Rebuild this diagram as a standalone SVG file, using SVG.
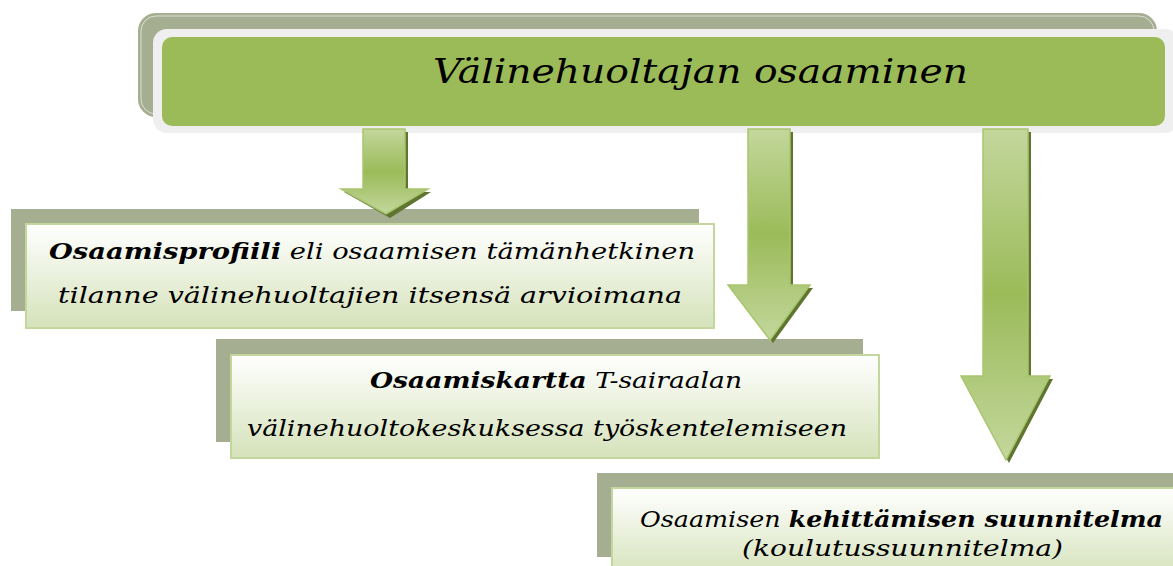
<svg xmlns="http://www.w3.org/2000/svg" width="1173" height="566" viewBox="0 0 1173 566">
  <defs>
    <linearGradient id="boxFill" x1="0" y1="0" x2="0" y2="1">
      <stop offset="0" stop-color="#ffffff"/>
      <stop offset="1" stop-color="#d5e2ba"/>
    </linearGradient>
    <linearGradient id="arrowFill" x1="0" y1="0" x2="0" y2="1">
      <stop offset="0" stop-color="#c3d79c"/>
      <stop offset="0.5" stop-color="#9bbb59"/>
      <stop offset="1" stop-color="#c3d79c"/>
    </linearGradient>
    <style>
      .back { fill: #a6ae92; }
      .card { fill: url(#boxFill); stroke: #c3d69b; stroke-width: 2; }
      .txt { font-family: "DejaVu Serif", "Liberation Serif", serif; font-style: italic; fill: #000; }
      .box-txt { font-size: 22px; }
      .b { font-weight: bold; }
      .arrow { fill: url(#arrowFill); stroke: #a9c56e; stroke-width: 1.5; }
      .arrow-shadow { fill: #5f7530; }
    </style>
  </defs>

  <!-- title block -->
  <g id="title">
    <rect x="138" y="13" width="1019" height="104" rx="18" fill="#a6ae92"/>
    <rect x="141" y="16" width="1013" height="98" rx="15" fill="none" stroke="#ffffff" stroke-opacity="0.6" stroke-width="1"/>
    <rect x="153" y="29" width="1026" height="104" rx="14" fill="#efefef"/>
    <rect x="162" y="37" width="1003" height="89" rx="10" fill="#9bbb59"/>
    <text class="txt" x="433" y="83" font-size="34" textLength="535" lengthAdjust="spacingAndGlyphs">Välinehuoltajan osaaminen</text>
  </g>

  <!-- competence profile -->
  <g id="profile">
    <rect class="back" x="11" y="209" width="688" height="102"/>
    <rect class="card" x="26" y="224" width="688" height="104"/>
    <text class="txt box-txt" x="49" y="259" textLength="646" lengthAdjust="spacingAndGlyphs"><tspan class="b">Osaamisprofiili</tspan> eli  osaamisen tämänhetkinen</text>
    <text class="txt box-txt" x="58" y="303" textLength="624" lengthAdjust="spacingAndGlyphs">tilanne välinehuoltajien itsensä arvioimana</text>
  </g>

  <!-- competence map -->
  <g id="map">
    <rect class="back" x="216" y="339" width="647" height="103"/>
    <rect class="card" x="231" y="355" width="648" height="103"/>
    <text class="txt box-txt" x="370" y="388" textLength="372" lengthAdjust="spacingAndGlyphs"><tspan class="b">Osaamiskartta</tspan> T-sairaalan</text>
    <text class="txt box-txt" x="247" y="436" textLength="600" lengthAdjust="spacingAndGlyphs">välinehuoltokeskuksessa työskentelemiseen</text>
  </g>

  <!-- development plan -->
  <g id="plan">
    <rect class="back" x="597" y="473" width="590" height="84"/>
    <rect class="card" x="612" y="488" width="580" height="90"/>
    <text class="txt box-txt" x="640" y="527" textLength="523" lengthAdjust="spacingAndGlyphs">Osaamisen <tspan class="b">kehittämisen suunnitelma</tspan></text>
    <text class="txt box-txt" x="742" y="556" textLength="321" lengthAdjust="spacingAndGlyphs">(koulutussuunnitelma)</text>
  </g>

  <!-- block arrows -->
  <g id="connectors">
    <g id="arrow-profile">
      <polygon class="arrow-shadow" points="366,132 408,132 408,192 431,192 390,218 344,192 366,192"/>
      <polygon class="arrow" points="363,129 405,129 405,189 428,189 386,214 341,189 363,189"/>
    </g>
    <g id="arrow-map">
      <polygon class="arrow-shadow" points="751,132 793,132 793,288 813,288 773,343 731,288 751,288"/>
      <polygon class="arrow" points="748,129 790,129 790,285 810,285 770,340 728,285 748,285"/>
    </g>
    <g id="arrow-plan">
      <polygon class="arrow-shadow" points="986,132 1031,132 1031,379 1053,379 1009,463 964,379 986,379"/>
      <polygon class="arrow" points="983,129 1028,129 1028,376 1050,376 1006,460 961,376 983,376"/>
    </g>
  </g>
</svg>
